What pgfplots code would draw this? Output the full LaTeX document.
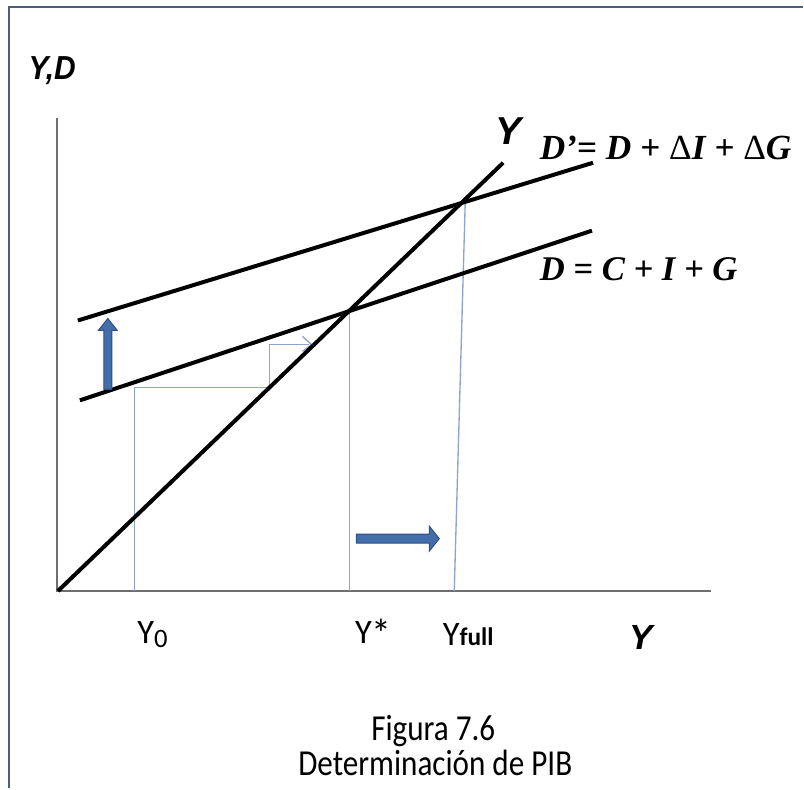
\documentclass[border=0pt]{standalone}
\usepackage{pgfplots}
\pgfplotsset{compat=1.18}
\usetikzlibrary{arrows.meta}
\usepackage{fontspec}
\setmainfont{Carlito}
\newfontfamily\arialf{Liberation Sans}
\newfontfamily\timesf{Liberation Serif}

\definecolor{framecol}{RGB}{75,95,125}
\definecolor{axiscol}{RGB}{110,110,110}
\definecolor{guide}{RGB}{140,165,200}
\definecolor{arrowblue}{RGB}{68,110,170}
\definecolor{arrowedge}{RGB}{45,80,135}

\begin{document}
\begin{tikzpicture}
\begin{axis}[
  width=241.2pt, height=236.7pt, scale only axis,
  xmin=0, xmax=804, ymin=0, ymax=789, y dir=reverse,
  hide axis, clip=false, enlargelimits=false,
]
% background and frame
\addplot[fill=white, draw=none] coordinates {(0,0) (804,0) (804,789) (0,789)} --cycle;
\addplot[framecol, line width=0.8pt] coordinates {(9,789) (9,7) (804,7)};

% axes
\addplot[axiscol, line width=0.6pt] coordinates {(57,118) (57,592) (712,592)};

% guide lines
\addplot[guide, line width=0.4pt] coordinates {(135,592) (135,388) (270,388) (270,345) (310,345)};
\addplot[guide, line width=0.4pt] coordinates {(303,337) (312,345) (303,352)};
\addplot[guide, line width=0.4pt] coordinates {(350,592) (350,311)};
\addplot[guide, line width=0.4pt] coordinates {(455,592) (466,203)};

% main lines
\addplot[black, line width=1.2pt] coordinates {(58,592) (504,163)};
\addplot[black, line width=1.2pt] coordinates {(80,401) (593,231)};
\addplot[black, line width=1.2pt] coordinates {(78,321) (594,163)};

% shift arrows
\addplot[fill=arrowblue, draw=arrowedge, line width=0.3pt] coordinates {
  (104,390) (112,390) (112,331) (117.5,331) (108,319) (98.5,331) (104,331)} --cycle;
\addplot[fill=arrowblue, draw=arrowedge, line width=0.3pt] coordinates {
  (357,535) (430,535) (430,527) (440,539.5) (430,552) (430,544) (357,544)} --cycle;

% labels
\node[anchor=base west, inner sep=0pt] at (axis cs:28,80)
  {\arialf\bfseries\itshape\fontsize{10}{10}\selectfont\scalebox{0.9}[1]{Y,D}};
\node[anchor=base west, inner sep=0pt] at (axis cs:496,145)
  {\arialf\bfseries\itshape\fontsize{11.7}{12}\selectfont Y};
\node[anchor=base west, inner sep=0pt] at (axis cs:540,160)
  {\timesf\bfseries\itshape\fontsize{10.6}{12}\selectfont D’= D + {\mdseries\upshape Δ}I + {\mdseries\upshape Δ}G};
\node[anchor=base west, inner sep=0pt] at (axis cs:540,281)
  {\timesf\bfseries\itshape\fontsize{10.4}{12}\selectfont D = C + I + G};
\node[anchor=base west, inner sep=0pt] at (axis cs:630,651)
  {\arialf\bfseries\itshape\fontsize{10.5}{12}\selectfont Y};

\node[anchor=base west, inner sep=0pt] at (axis cs:137,645)
  {\fontsize{10.3}{12}\selectfont Y\raisebox{-1pt}{\fontsize{8}{9}\selectfont 0}};
\node[anchor=base west, inner sep=0pt] at (axis cs:355,645)
  {\fontsize{10.3}{12}\selectfont Y\raisebox{-1pt}{\fontsize{12}{12}\selectfont *}};
\node[anchor=base west, inner sep=0pt] at (axis cs:443,647)
  {\fontsize{10.3}{12}\selectfont Y{\bfseries\fontsize{7.6}{8}\selectfont full}};

\node[anchor=base, inner sep=0pt] at (axis cs:434,742)
  {\fontsize{11}{12}\selectfont\scalebox{0.85}[1]{Figura 7.6}};
\node[anchor=base, inner sep=0pt] at (axis cs:436,777)
  {\fontsize{11}{12}\selectfont\scalebox{0.85}[1]{Determinación de PIB}};
\end{axis}
\end{tikzpicture}
\end{document}
